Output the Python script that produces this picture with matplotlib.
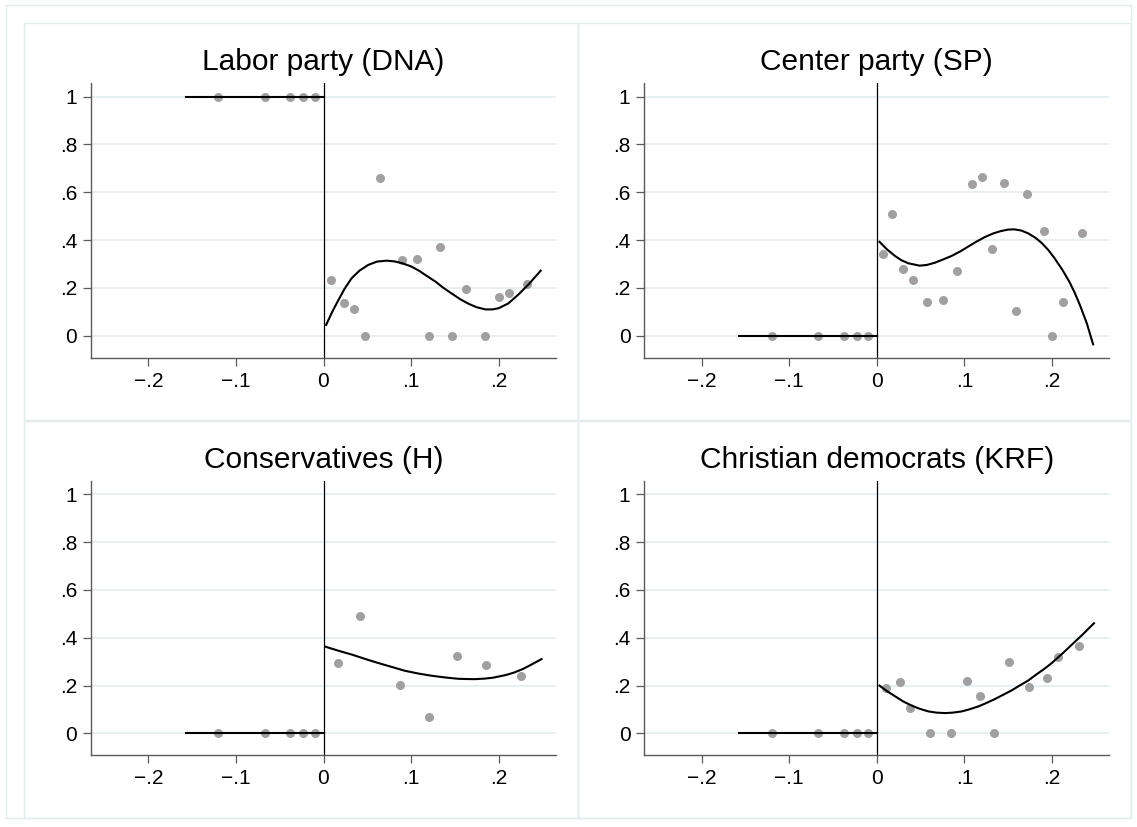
import numpy as np
import matplotlib.pyplot as plt
from matplotlib.patches import Rectangle

plt.rcParams['font.family'] = ['Liberation Sans', 'DejaVu Sans']

# panel titles
titles = ['Labor party (DNA)', 'Center party (SP)',
          'Conservatives (H)', 'Christian democrats (KRF)']

# bins left of the threshold (same x in every panel)
left_x = [-0.12, -0.067, -0.038, -0.023, -0.01]
left_y = [[1, 1, 1, 1, 1], [0, 0, 0, 0, 0], [0, 0, 0, 0, 0], [0, 0, 0, 0, 0]]
left_fit_x = [-0.157, 0.0]
left_fit_y = [[1, 1], [0, 0], [0, 0], [0, 0]]

# bins right of the threshold
dna_x = [0.008, 0.023, 0.035, 0.047, 0.065, 0.090, 0.107, 0.120, 0.133, 0.147,
         0.163, 0.184, 0.200, 0.212, 0.232]
dna_y = [0.233, 0.136, 0.112, 0.0, 0.661, 0.317, 0.321, 0.0, 0.373, 0.0,
         0.195, 0.0, 0.163, 0.180, 0.216]
sp_x = [0.007, 0.017, 0.030, 0.041, 0.057, 0.076, 0.092, 0.109, 0.120, 0.132,
        0.145, 0.159, 0.172, 0.191, 0.200, 0.213, 0.234]
sp_y = [0.343, 0.509, 0.279, 0.234, 0.140, 0.148, 0.269, 0.636, 0.665, 0.364,
        0.639, 0.102, 0.594, 0.437, 0.0, 0.142, 0.428]
h_x = [0.017, 0.042, 0.087, 0.120, 0.152, 0.185, 0.225]
h_y = [0.294, 0.492, 0.202, 0.069, 0.322, 0.286, 0.242]
krf_x = [0.011, 0.026, 0.038, 0.061, 0.085, 0.103, 0.118, 0.134, 0.151, 0.174,
         0.194, 0.207, 0.231]
krf_y = [0.192, 0.213, 0.106, 0.0, 0.0, 0.220, 0.156, 0.0, 0.297, 0.195,
         0.233, 0.320, 0.366]

# fitted polynomial right of the threshold
dna_fit_x = [0.003, 0.010, 0.017, 0.024, 0.032, 0.041, 0.051, 0.061, 0.072, 0.081,
             0.090, 0.100, 0.109, 0.118, 0.128, 0.137, 0.147, 0.156, 0.166, 0.175,
             0.185, 0.193, 0.200, 0.211, 0.2225, 0.235, 0.248]
dna_fit_y = [0.045, 0.100, 0.149, 0.196, 0.240, 0.272, 0.296, 0.310, 0.314, 0.311,
             0.303, 0.290, 0.272, 0.250, 0.226, 0.200, 0.175, 0.153, 0.133, 0.119,
             0.110, 0.110, 0.115, 0.135, 0.172, 0.218, 0.272]
sp_fit_x = [0.003, 0.012, 0.021, 0.028, 0.036, 0.049, 0.057, 0.066, 0.075, 0.085,
            0.095, 0.104, 0.113, 0.123, 0.133, 0.142, 0.150, 0.157, 0.165, 0.173,
            0.181, 0.188, 0.196, 0.203, 0.212, 0.220, 0.226, 0.232, 0.240, 0.247]
sp_fit_y = [0.393, 0.360, 0.333, 0.316, 0.303, 0.293, 0.296, 0.305, 0.318, 0.333,
            0.352, 0.372, 0.392, 0.412, 0.428, 0.438, 0.444, 0.445, 0.440, 0.428,
            0.410, 0.389, 0.358, 0.324, 0.275, 0.225, 0.180, 0.128, 0.050, -0.036]
h_fit_x = [0.002, 0.017, 0.033, 0.048, 0.063, 0.078, 0.093, 0.109, 0.124, 0.139,
           0.154, 0.164, 0.173, 0.183, 0.193, 0.200, 0.208, 0.218, 0.228, 0.238, 0.249]
h_fit_y = [0.363, 0.346, 0.329, 0.311, 0.294, 0.278, 0.262, 0.250, 0.241, 0.234,
           0.2285, 0.2275, 0.227, 0.229, 0.2327, 0.238, 0.244, 0.255, 0.270, 0.289, 0.311]
krf_fit_x = [0.003, 0.012, 0.021, 0.030, 0.040, 0.049, 0.059, 0.068, 0.078, 0.087,
             0.097, 0.106, 0.116, 0.125, 0.135, 0.144, 0.154, 0.163, 0.173, 0.182,
             0.192, 0.200, 0.207, 0.214, 0.220, 0.234, 0.248]
krf_fit_y = [0.200, 0.176, 0.155, 0.134, 0.116, 0.103, 0.092, 0.087, 0.085, 0.087,
             0.092, 0.101, 0.113, 0.127, 0.144, 0.161, 0.180, 0.200, 0.2215, 0.246,
             0.272, 0.295, 0.318, 0.341, 0.362, 0.410, 0.461]

right_x = [dna_x, sp_x, h_x, krf_x]
right_y = [dna_y, sp_y, h_y, krf_y]
fit_x = [dna_fit_x, sp_fit_x, h_fit_x, krf_fit_x]
fit_y = [dna_fit_y, sp_fit_y, h_fit_y, krf_fit_y]

xticks = [-0.2, -0.1, 0, 0.1, 0.2]
xticklabels = ['\u2212.2', '\u2212.1', '0', '.1', '.2']
yticks = [0, 0.2, 0.4, 0.6, 0.8, 1]
yticklabels = ['0', '.2', '.4', '.6', '.8', '1']

W, H = 1137, 827
fig = plt.figure(figsize=(W / 100, H / 100), dpi=100)
fig.patch.set_facecolor('white')

border = '#e4ecef'
# outer frame and the four panel frames (pixel boxes)
frames = [(6, 5, 1131, 818), (24, 23, 578, 420), (578, 23, 1131, 420),
          (24, 421, 578, 818), (578, 421, 1131, 818)]
for x0, y0, x1, y1 in frames:
    fig.patches.append(Rectangle((x0 / W, 1 - y1 / H), (x1 - x0) / W, (y1 - y0) / H,
                                 transform=fig.transFigure, fill=False,
                                 ec=border, lw=1.0))

# axes boxes in pixels: left, top
boxes = [(91, 83.3), (644.3, 83.3), (91, 481), (644.3, 481)]
ax_w, ax_h = 465, 274.4

for i in range(4):
    l, t = boxes[i]
    ax = fig.add_axes([l / W, 1 - (t + ax_h) / H, ax_w / W, ax_h / H])
    ax.set_xlim(-0.2655, 0.2655)
    ax.set_ylim(-0.092, 1.056)
    ax.set_xticks(xticks)
    ax.set_xticklabels(xticklabels)
    ax.set_yticks(yticks)
    ax.set_yticklabels(yticklabels)
    ax.yaxis.grid(True, color='#e6eef1', lw=1.3)
    ax.set_axisbelow(True)
    for s in ['top', 'right']:
        ax.spines[s].set_visible(False)
    for s in ['left', 'bottom']:
        ax.spines[s].set_color('#5a5a5a')
        ax.spines[s].set_linewidth(1.0)
    ax.tick_params(direction='out', length=6, width=0.9, color='#5a5a5a',
                   labelsize=15, labelcolor='black', pad=4)

    ax.axvline(0, color='black', lw=0.9, zorder=2)
    ax.plot(left_x, left_y[i], 'o', color='#a0a0a0', ms=6.5, mec='none', zorder=3)
    ax.plot(right_x[i], right_y[i], 'o', color='#a0a0a0', ms=6.5, mec='none', zorder=3)
    ax.plot(left_fit_x, left_fit_y[i], color='black', lw=1.5, zorder=4)
    ax.plot(fit_x[i], fit_y[i], color='black', lw=1.5, zorder=4,
            solid_joinstyle='round')

    fig.text((l + ax_w / 2) / W, 1 - (t - 21.5) / H, titles[i],
             ha='center', va='center', fontsize=21.5)

fig.savefig('out.png', dpi=100, facecolor='white')
